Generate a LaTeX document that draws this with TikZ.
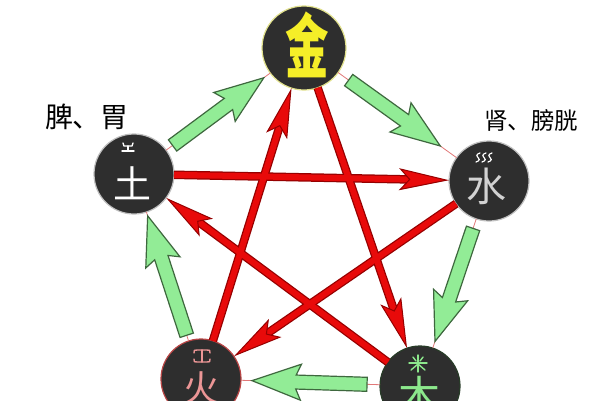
\documentclass[tikz,border=0pt]{standalone}
\usepackage{fontspec}
\newfontfamily\cjk{Noto Sans CJK SC}
\usetikzlibrary{arrows.meta,calc}
\definecolor{disk}{RGB}{46,46,46}
\definecolor{gfill}{RGB}{146,236,150}
\definecolor{gdraw}{RGB}{62,104,62}
\definecolor{rfill}{RGB}{232,10,10}
\definecolor{rdraw}{RGB}{150,0,0}
\definecolor{pinkline}{RGB}{225,120,120}
\definecolor{gold}{RGB}{245,238,40}
\definecolor{jinb}{RGB}{225,225,140}
\definecolor{huob}{RGB}{185,70,70}
\definecolor{mub}{RGB}{40,60,40}
\definecolor{firec}{RGB}{236,150,150}
\definecolor{woodc}{RGB}{140,232,140}
\definecolor{waterc}{RGB}{210,210,210}
\tikzset{
  elem/.style={circle, fill=disk, minimum size=80pt, inner sep=0pt, outer sep=0pt, line width=1.2pt},
  thinlink/.style={draw=pinkline, line width=0.8pt},
  redunder/.style={draw=rdraw, line width=8.5pt, shorten >=35pt},
  redarrow/.style={draw=rfill, line width=6pt, -{Stealth[length=50pt,width=22pt,inset=10pt,color=rdraw,fill=rfill,line width=1pt]}},
  garr/.style={fill=gfill, draw=gdraw, line width=1.2pt, line join=miter},
  deco/.style={line width=1.4pt, line cap=round, line join=round},
  bigchar/.style={inner sep=0pt}
}
\newcommand\garrow[4]{%
  \coordinate (#1#2t) at ($(#1)!#3!(#2)$);
  \coordinate (#1#2h) at ($(#2)!#4!(#1)$);
  \coordinate (#1#2b) at ($(#1#2h)!44pt!(#1#2t)$);
  \coordinate (#1#2c) at ($(#1#2h)!49pt!(#1#2t)$);
  \draw[garr] ($(#1#2t)!7pt!90:(#1#2h)$) -- ($(#1#2b)!7pt!90:(#1#2h)$)
    -- ($(#1#2c)!18pt!90:(#1#2h)$) -- (#1#2h) -- ($(#1#2c)!18pt!-90:(#1#2h)$)
    -- ($(#1#2b)!7pt!-90:(#1#2h)$) -- ($(#1#2t)!7pt!-90:(#1#2h)$) -- cycle;
}
\begin{document}
\begin{tikzpicture}[x=1pt,y=-1pt]
\useasboundingbox (0,0) rectangle (600,400);
\clip (0,0) rectangle (600,400);
\fill[white] (0,0) rectangle (600,400);

% element discs
\node[elem, draw=jinb, minimum size=84pt] (jin) at (304,48) {};
\node[elem, draw=lightgray] (tu) at (134,174) {};
\node[elem, draw=lightgray] (shui) at (489,181) {};
\node[elem, draw=huob] (huo) at (201,379) {};
\node[elem, draw=mub] (mu) at (420,386) {};

% thin pentagon links
\draw[thinlink] (tu) -- (jin);
\draw[thinlink] (jin) -- (shui);
\draw[thinlink] (shui) -- (mu);
\draw[thinlink] (mu) -- (huo);
\draw[thinlink] (huo) -- (tu);

% green generating arrows
\garrow{tu}{jin}{48pt}{50pt}
\garrow{jin}{shui}{55pt}{60pt}
\garrow{shui}{mu}{50pt}{47pt}
\garrow{mu}{huo}{53pt}{51pt}
\garrow{huo}{tu}{46pt}{44pt}

% red controlling arrows
\foreach \a/\b in {tu/shui, shui/huo, huo/jin, jin/mu, mu/tu}
  \draw[redunder] (\a) -- (\b);
\foreach \a/\b in {tu/shui, shui/huo, huo/jin, jin/mu, mu/tu}
  \draw[redarrow] (\a) -- (\b);

% characters
\node[bigchar, font=\cjk\bfseries\fontsize{70}{70}\selectfont, text=gold] (jinc) at (307,45) {\scalebox{0.62}[1]{金}};
\node[bigchar, font=\cjk\fontsize{38}{38}\selectfont, text=white] (tuc) at (132,183) {土};
\node[bigchar, font=\cjk\fontsize{40}{40}\selectfont, text=waterc] (shuic) at (486,186) {水};
\node[bigchar, font=\cjk\fontsize{36}{36}\selectfont, text=firec] (huoc) at (201,388) {火};
\node[bigchar, font=\cjk\fontsize{42}{42}\selectfont, text=woodc] (muc) at (419,396) {木};

% small decorative marks
\draw[deco, white] (123,143) -- (124,146) -- (132,146) -- (133,143);
\draw[deco, white] (128,146) -- (128,151);
\draw[deco, white] (122,151) -- (134,151);
\foreach \x in {478,484,490}
  \draw[deco, white, line width=1.2pt] (\x+2,153) .. controls (\x-2,154) and (\x-2,157) .. (\x,157.5) .. controls (\x+2,158) and (\x+2,161) .. (\x-2,162);
\draw[deco, firec] (194,353) .. controls (194,350) .. (197,350) -- (207,350) .. controls (210,350) .. (210,353);
\draw[deco, firec] (194,359) .. controls (194,362) .. (197,362) -- (207,362) .. controls (210,362) .. (210,359);
\draw[deco, firec] (202,350) -- (202,362);
\draw[deco, woodc] (413,357) -- (416,361);
\draw[deco, woodc] (423,357) -- (420,361);
\draw[deco, woodc] (409,363) -- (427,363);
\draw[deco, woodc] (418,355) -- (418,372);
\draw[deco, woodc] (418,364) -- (411,370);
\draw[deco, woodc] (418,364) -- (425,370);

% organ labels
\node[font=\cjk\fontsize{28}{28}\selectfont] (pi) at (87,117) {脾、胃};
\node[font=\cjk\fontsize{23.5}{23.5}\selectfont] (shen) at (531,121) {肾、膀胱};
\end{tikzpicture}
\end{document}
